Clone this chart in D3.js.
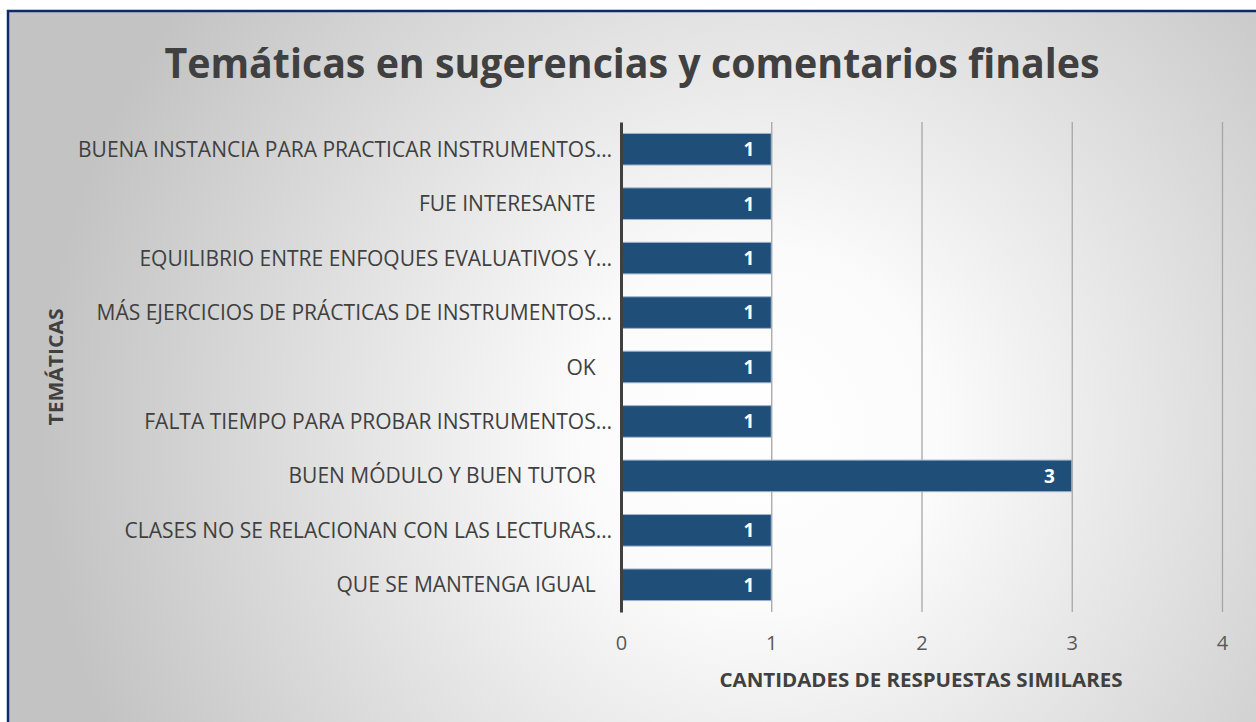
<!DOCTYPE html>
<html><head><meta charset="utf-8">
<script src="https://cdn.jsdelivr.net/npm/d3@7"></script>
<style>html,body{margin:0;padding:0;overflow:hidden;background:#fff}</style>
</head><body>
<svg id="c" width="1256" height="722"></svg>
<script>
const categories = [
  "BUENA INSTANCIA PARA PRACTICAR INSTRUMENTOS…",
  "FUE INTERESANTE   ",
  "EQUILIBRIO ENTRE ENFOQUES EVALUATIVOS Y…",
  "MÁS EJERCICIOS DE PRÁCTICAS DE INSTRUMENTOS…",
  "OK   ",
  "FALTA TIEMPO PARA PROBAR INSTRUMENTOS…",
  "BUEN MÓDULO Y BUEN TUTOR   ",
  "CLASES NO SE RELACIONAN CON LAS LECTURAS…",
  "QUE SE MANTENGA IGUAL   "
];
const values = [1, 1, 1, 1, 1, 1, 3, 1, 1];
const xTicks = [0, 1, 2, 3, 4];
const title = "Temáticas en sugerencias y comentarios finales";
const xTitle = "CANTIDADES DE RESPUESTAS SIMILARES";
const yTitle = "TEMÁTICAS";

const svg = d3.select("#c");
const W = 1256, H = 722;
const FONT = "'Open Sans', sans-serif";

const defs = svg.append("defs");
const rg = defs.append("radialGradient").attr("id","bg")
  .attr("gradientUnits","userSpaceOnUse")
  .attr("cx",760).attr("cy",430).attr("r",720);
rg.append("stop").attr("offset","0%").attr("stop-color","#ffffff");
rg.append("stop").attr("offset","25%").attr("stop-color","#fbfbfb");
rg.append("stop").attr("offset","100%").attr("stop-color","#c3c3c3");

svg.append("rect").attr("x",0).attr("y",0).attr("width",W).attr("height",H).attr("fill","#fff");
svg.append("rect").attr("x",8).attr("y",11).attr("width",W+20).attr("height",H+20)
  .attr("fill","url(#bg)").attr("stroke","#0f2a6b").attr("stroke-width",2.5);

const x0 = 621, x1 = 1222, yTop = 122, yBot = 612;
const x = d3.scaleLinear().domain([0, 4]).range([x0, x1]);
const y = d3.scaleBand().domain(categories).range([yTop, yBot]).paddingInner(0.42).paddingOuter(0.21);

// gridlines
const xAxis = d3.axisBottom(x).tickValues(xTicks).tickSize(-(yBot - yTop)).tickFormat(d3.format("d"));
const gx = svg.append("g").attr("transform",`translate(0,${yBot})`).call(xAxis);
gx.select(".domain").remove();
gx.selectAll(".tick line").attr("stroke","#a6a6a6").attr("stroke-width",1.3)
  .attr("opacity", d => d === 0 ? 0 : 1);
gx.selectAll(".tick text").attr("y",24).attr("font-family",FONT).attr("font-size",20)
  .attr("fill","#595959");

// bars
svg.append("g").selectAll("rect").data(values).join("rect")
  .attr("x", x(0)).attr("y",(d,i)=>y(categories[i]))
  .attr("width", d => x(d) - x(0)).attr("height", y.bandwidth())
  .attr("fill","#1f4e79").attr("stroke","#9fb4cc").attr("stroke-width",1);

// value labels
svg.append("g").selectAll("text").data(values).join("text")
  .attr("x", d => x(d) - 17).attr("y",(d,i)=>y(categories[i]) + y.bandwidth()/2)
  .attr("dy","0.36em").attr("text-anchor","end")
  .attr("font-family",FONT).attr("font-weight","bold").attr("font-size",19)
  .attr("fill","#ffffff").text(d => d);

// y axis
const yAxis = d3.axisLeft(y).tickSize(0).tickPadding(9);
const gy = svg.append("g").attr("transform",`translate(${x0},0)`).call(yAxis);
gy.select(".domain").attr("stroke","#404040").attr("stroke-width",3);
gy.selectAll(".tick text").attr("font-family",FONT).attr("font-size",21)
  .attr("fill","#404040").style("white-space","pre").attr("dy","0.36em");

// title
svg.append("text").attr("x",632).attr("y",78).attr("text-anchor","middle")
  .attr("font-family",FONT).attr("font-weight","bold").attr("font-size",42)
  .attr("fill","#404040").text(title)
  .attr("textLength",935).attr("lengthAdjust","spacingAndGlyphs");

// x title
svg.append("text").attr("x",921).attr("y",687).attr("text-anchor","middle")
  .attr("font-family",FONT).attr("font-weight","bold").attr("font-size",20)
  .attr("fill","#404040").text(xTitle)
  .attr("textLength",403).attr("lengthAdjust","spacingAndGlyphs");

// y title
svg.append("text").attr("transform","translate(63,367) rotate(-90)").attr("text-anchor","middle")
  .attr("font-family",FONT).attr("font-weight","bold").attr("font-size",20)
  .attr("fill","#404040").text(yTitle)
  .attr("textLength",117).attr("lengthAdjust","spacingAndGlyphs");
</script>
</body></html>
